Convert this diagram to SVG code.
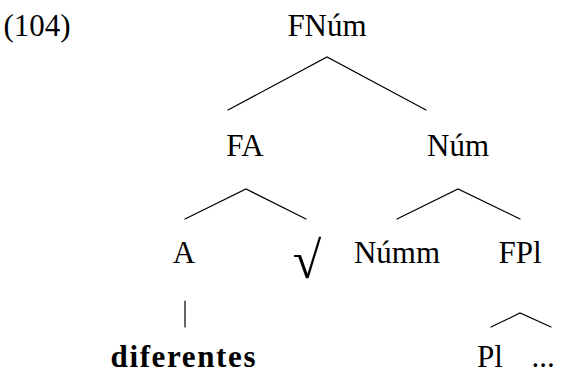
<svg xmlns="http://www.w3.org/2000/svg" width="563" height="373" viewBox="0 0 563 373">
  <style>
    .lbl { font-family: "Liberation Serif", "DejaVu Serif", serif; font-size: 31px; fill: #000; text-anchor: middle; }
    .bold { font-weight: bold; }
    .edge { stroke: #000; stroke-width: 1.2; fill: none; stroke-linecap: round; }
  </style>
  <rect width="563" height="373" fill="#fff"/>

  <!-- example number -->
  <text class="lbl" x="37" y="36">(104)</text>

  <!-- tree branches -->
  <g id="connectors">
    <polyline class="edge" points="228,110 327,57 426,110"/>
    <polyline class="edge" points="185,219 246,189 306,219"/>
    <polyline class="edge" points="397,219 458,189 520,219"/>
    <line class="edge" x1="185" y1="301" x2="185" y2="327"/>
    <polyline class="edge" points="491,327 520,313 551,327"/>
  </g>

  <g id="n-fnum"><text class="lbl" x="327" y="36">FNúm</text></g>
  <g id="n-fa"><text class="lbl" x="245" y="156">FA</text></g>
  <g id="n-num"><text class="lbl" x="458" y="156">Núm</text></g>
  <g id="n-a"><text class="lbl" x="184" y="263">A</text></g>
  <g id="n-root"><text class="lbl" x="307" y="278" style="font-size:52px">√</text></g>
  <g id="n-numm"><text class="lbl" x="397" y="263">Númm</text></g>
  <g id="n-fpl"><text class="lbl" x="520" y="263">FPl</text></g>
  <g id="n-diferentes"><text class="lbl bold" x="183" y="367" textLength="145" lengthAdjust="spacing">diferentes</text></g>
  <g id="n-pl"><text class="lbl" x="490" y="367">Pl</text></g>
  <g id="n-dots"><text class="lbl" x="543" y="367">...</text></g>
</svg>
